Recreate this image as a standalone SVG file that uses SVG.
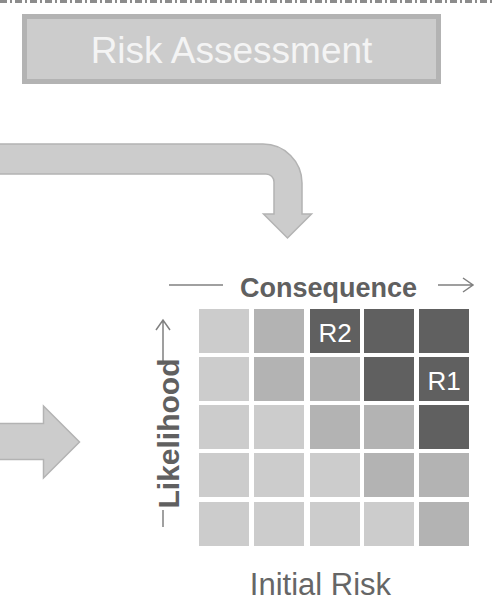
<svg xmlns="http://www.w3.org/2000/svg" width="492" height="604" viewBox="0 0 492 604">
  <style>
    .lbl { font-family: "Liberation Sans", Arial, sans-serif; }
    .axis { font-weight: bold; fill: #606060; }
    .flow { fill: #cccccc; stroke: #b3b3b3; stroke-width: 1.5; stroke-linejoin: miter; }
    .c1 { fill: #cccccc; }
    .c2 { fill: #b3b3b3; }
    .c3 { fill: #606060; }
    .rid { fill: #ffffff; font-size: 26px; text-anchor: middle; }
    .guide { fill: none; stroke: #808080; stroke-width: 1.5; }
  </style>

  <!-- boundary line along the top -->
  <line x1="0" y1="1.5" x2="492" y2="1.5" stroke="#8c8c8c" stroke-width="3" stroke-dasharray="7,3,2,3"/>

  <!-- step title -->
  <g id="risk-assessment">
    <rect x="24.5" y="16.5" width="414" height="65" fill="#cccccc" stroke="#b3b3b3" stroke-width="5"/>
    <text class="lbl" x="231.5" y="62.5" font-size="37" fill="#f4f4f4" text-anchor="middle">Risk Assessment</text>
  </g>

  <!-- flow arrows -->
  <g id="connectors">
    <path class="flow" d="M -3 144 H 263 A 39 39 0 0 1 302 183 V 214 H 311.5 L 287.5 238 L 263.5 214 H 274 V 182 A 8 8 0 0 0 266 174 H -3 Z"/>
    <path class="flow" d="M -3 423.5 H 43.5 V 406 L 79.5 442 L 43.5 478 V 459.5 H -3 Z"/>
  </g>

  <!-- risk matrix -->
  <g id="risk-matrix">
    <!-- axis: consequence -->
    <line class="guide" x1="169" y1="285" x2="223" y2="285"/>
    <path class="guide" d="M 438 285 H 473 M 463 278 L 473 285 L 463 292"/>
    <text class="lbl axis" x="328.5" y="296.5" font-size="27" text-anchor="middle">Consequence</text>

    <!-- axis: likelihood -->
    <path class="guide" d="M 163 362 V 320 M 156 330 L 163 320 L 170 330"/>
    <line class="guide" x1="163" y1="510" x2="163" y2="527"/>
    <text class="lbl axis" transform="translate(178.5,433.5) rotate(-90)" font-size="30" text-anchor="middle">Likelihood</text>

    <!-- row 1 -->
    <rect class="c1" x="199" y="309" width="50" height="44"/>
    <rect class="c2" x="254" y="309" width="50" height="44"/>
    <rect class="c3" x="310" y="309" width="50" height="44"/>
    <rect class="c3" x="364" y="309" width="50" height="44"/>
    <rect class="c3" x="419" y="309" width="50" height="44"/>
    <!-- row 2 -->
    <rect class="c1" x="199" y="357" width="50" height="44"/>
    <rect class="c2" x="254" y="357" width="50" height="44"/>
    <rect class="c2" x="310" y="357" width="50" height="44"/>
    <rect class="c3" x="364" y="357" width="50" height="44"/>
    <rect class="c3" x="419" y="357" width="50" height="44"/>
    <!-- row 3 -->
    <rect class="c1" x="199" y="405" width="50" height="44"/>
    <rect class="c1" x="254" y="405" width="50" height="44"/>
    <rect class="c2" x="310" y="405" width="50" height="44"/>
    <rect class="c2" x="364" y="405" width="50" height="44"/>
    <rect class="c3" x="419" y="405" width="50" height="44"/>
    <!-- row 4 -->
    <rect class="c1" x="199" y="453" width="50" height="44"/>
    <rect class="c1" x="254" y="453" width="50" height="44"/>
    <rect class="c1" x="310" y="453" width="50" height="44"/>
    <rect class="c2" x="364" y="453" width="50" height="44"/>
    <rect class="c2" x="419" y="453" width="50" height="44"/>
    <!-- row 5 -->
    <rect class="c1" x="199" y="502" width="50" height="44"/>
    <rect class="c1" x="254" y="502" width="50" height="44"/>
    <rect class="c1" x="310" y="502" width="50" height="44"/>
    <rect class="c1" x="364" y="502" width="50" height="44"/>
    <rect class="c2" x="419" y="502" width="50" height="44"/>

    <text class="lbl rid" x="335" y="342">R2</text>
    <text class="lbl rid" x="444" y="390">R1</text>

    <text class="lbl" x="320.5" y="595" font-size="31" fill="#666666" text-anchor="middle">Initial Risk</text>
  </g>
</svg>
